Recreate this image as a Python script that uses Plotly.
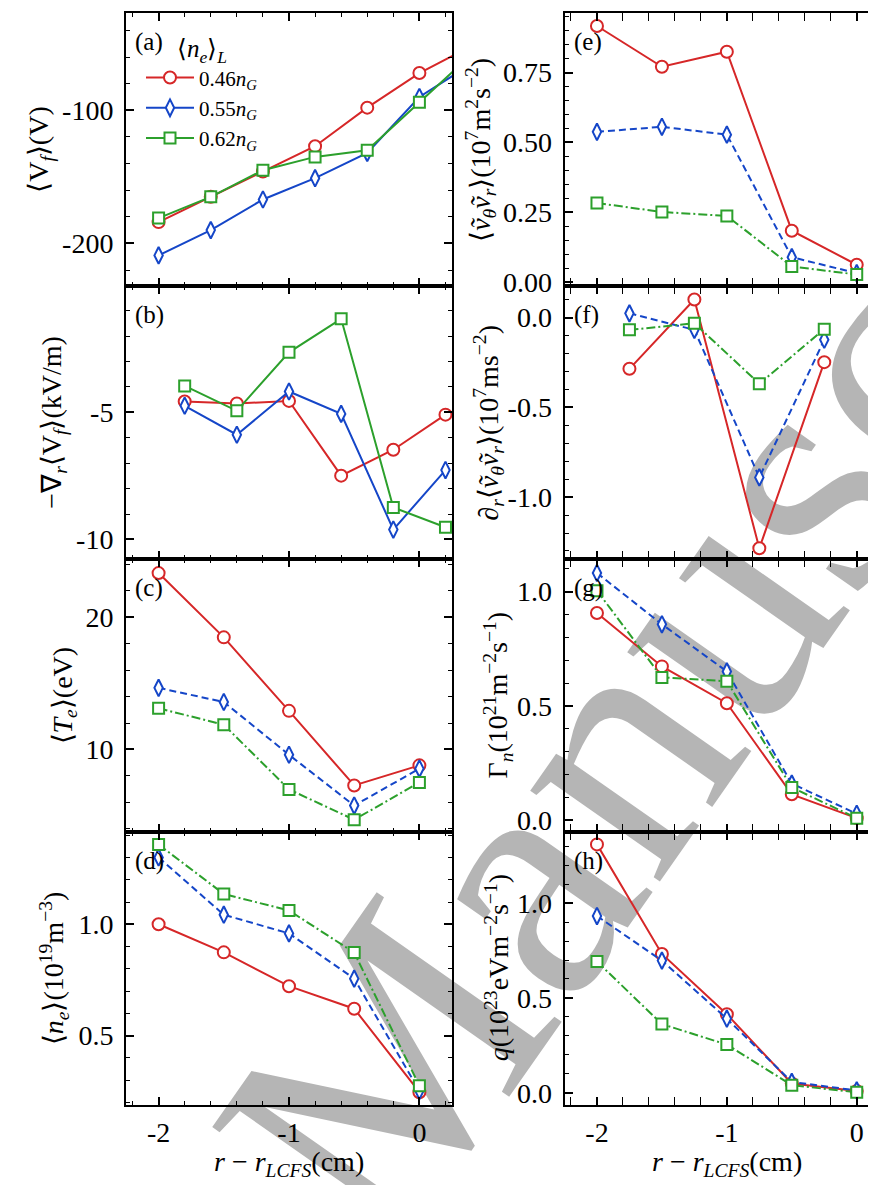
import math
import plotly.graph_objects as go

FONT = "Liberation Serif"
W, H = 876, 1185

# ---------------- data ----------------
series_names = ["0.46<i>n<sub>G</sub></i>", "0.55<i>n<sub>G</sub></i>", "0.62<i>n<sub>G</sub></i>"]
legend_title = "⟨<i>n<sub>e</sub></i>⟩<sub><i>L</i></sub>"

x_vf = [-2.0, -1.6, -1.2, -0.8, -0.4, 0.0, 0.4]
vf_046 = [-184, -165, -146, -127, -98, -72, -51.5]
vf_055 = [-209, -190, -167, -151, -132, -90, -65]
vf_062 = [-181, -165, -145, -135, -130, -94, -58]

x_er = [-1.8, -1.4, -1.0, -0.6, -0.2, 0.2]
er_046 = [-4.57, -4.65, -4.55, -7.49, -6.47, -5.09]
er_055 = [-4.74, -5.88, -4.18, -5.06, -9.61, -7.27]
er_062 = [-3.96, -4.94, -2.64, -1.32, -8.74, -9.52]

x_prof = [-2.0, -1.5, -1.0, -0.5, 0.0]
te_046 = [23.34, 18.48, 12.92, 7.28, 8.80]
te_055 = [14.66, 13.59, 9.60, 5.76, 8.55]
te_062 = [13.12, 11.87, 6.98, 4.69, 7.51]

ne_046 = [1.000, 0.874, 0.722, 0.621, 0.246]
ne_055 = [1.300, 1.043, 0.959, 0.756, 0.252]
ne_062 = [1.358, 1.136, 1.062, 0.873, 0.275]

rs_046 = [0.917, 0.771, 0.825, 0.184, 0.062]
rs_055 = [0.538, 0.556, 0.528, 0.089, 0.032]
rs_062 = [0.283, 0.251, 0.237, 0.056, 0.027]

x_drs = [-1.75, -1.25, -0.75, -0.25]
drs_046 = [-0.285, 0.101, -1.285, -0.248]
drs_055 = [0.024, -0.068, -0.890, -0.123]
drs_062 = [-0.068, -0.031, -0.368, -0.064]

gam_046 = [0.906, 0.673, 0.512, 0.114, 0.010]
gam_055 = [1.081, 0.857, 0.651, 0.161, 0.029]
gam_062 = [1.004, 0.625, 0.608, 0.144, 0.010]

q_046 = [1.310, 0.732, 0.414, 0.049, 0.009]
q_055 = [0.932, 0.697, 0.391, 0.057, 0.012]
q_062 = [0.692, 0.362, 0.254, 0.040, 0.002]

x_tickvals = [-2, -1, 0]
x_ticktext = ["-2", "-1", "0"]
x_title = "<i>r</i> − <i>r<sub>LCFS</sub></i>(cm)"

panel_labels = ["(a)", "(b)", "(c)", "(d)", "(e)", "(f)", "(g)", "(h)"]
y_titles = [
    "⟨V<sub><i>f</i></sub>⟩(V)",
    "−∇<sub><i>r</i></sub>⟨V<sub><i>f</i></sub>⟩(kV/m)",
    "⟨<i>T<sub>e</sub></i>⟩(eV)",
    "⟨<i>n<sub>e</sub></i>⟩(10<sup>19</sup>m<sup>−3</sup>)",
    "⟨<i>ṽ<sub>θ</sub>ṽ<sub>r</sub></i>⟩(10<sup>7</sup>m<sup>2</sup>s<sup>−2</sup>)",
    "∂<sub><i>r</i></sub>⟨<i>ṽ<sub>θ</sub>ṽ<sub>r</sub></i>⟩(10<sup>7</sup>ms<sup>−2</sup>)",
    "Γ<sub><i>n</i></sub>(10<sup>21</sup>m<sup>−2</sup>s<sup>−1</sup>)",
    "<i>q</i>(10<sup>23</sup>eVm<sup>−2</sup>s<sup>−1</sup>)",
]
y_tickvals = [
    [-200, -100], [-10, -5], [10, 20], [0.5, 1.0],
    [0.0, 0.25, 0.5, 0.75], [-1.0, -0.5, 0.0], [0.0, 0.5, 1.0], [0.0, 0.5, 1.0],
]
y_ticktext = [
    ["-200", "-100"], ["-10", "-5"], ["10", "20"], ["0.5", "1.0"],
    ["0.00", "0.25", "0.50", "0.75"], ["-1.0", "-0.5", "0.0"], ["0.0", "0.5", "1.0"], ["0.0", "0.5", "1.0"],
]
y_ranges = [
    [-232.2, -27.2], [-10.77, -0.04], [3.77, 24.4], [0.19, 1.415],
    [-0.015, 0.962], [-1.345, 0.175], [-0.05, 1.142], [-0.063, 1.376],
]
y_minor = [20, 1, 2, 0.1, 0.05, 0.1, 0.1, 0.1]

watermark = "Accepted Manuscript"

panels = [
    (x_vf, [vf_046, vf_055, vf_062], False),
    (x_er, [er_046, er_055, er_062], False),
    (x_prof, [te_046, te_055, te_062], True),
    (x_prof, [ne_046, ne_055, ne_062], True),
    (x_prof, [rs_046, rs_055, rs_062], True),
    (x_drs, [drs_046, drs_055, drs_062], True),
    (x_prof, [gam_046, gam_055, gam_062], True),
    (x_prof, [q_046, q_055, q_062], True),
]

# ---------------- styles ----------------
colors = ["#d62728", "#1546c8", "#2ca02c"]
symbols = ["circle", "diamond-tall", "square"]
msizes = [12, 12, 11]
dashes_styled = ["solid", "7px,4px", "9px,3px,2px,3px"]

TICK_SIZE = 28
TITLE_SIZE = 28

col_px = [(118.0, 444.0), (556.5, 876.0)]
x_ranges = [[-2.25, 0.25], [-2.25, 0.21]]
row_top = 5.5
row_h = 275.6

fig = go.Figure()


def px_x(p):
    return p / W


def px_y(p):
    return 1 - p / H


tick_common = dict(ticks="inside", ticklen=8, tickwidth=1.5, tickcolor="black",
                   showgrid=False, zeroline=False,
                   tickfont=dict(family=FONT, size=TICK_SIZE, color="black"))

for i, (xs, ys_list, styled) in enumerate(panels):
    col = i // 4
    row = i % 4
    n = i + 1
    xa = "x" if n == 1 else f"x{n}"
    ya = "y" if n == 1 else f"y{n}"
    for k, ys in enumerate(ys_list):
        fig.add_trace(go.Scatter(
            x=xs, y=ys, xaxis=xa, yaxis=ya, mode="lines+markers",
            name=series_names[k], showlegend=(i == 0),
            line=dict(color=colors[k], width=2, dash=dashes_styled[k] if styled else "solid"),
            marker=dict(symbol=symbols[k], size=msizes[k], color="white",
                        line=dict(color=colors[k], width=2)),
            cliponaxis=True,
        ))
    top = row_top + row * row_h
    bot = top + row_h
    x0, x1 = col_px[col]
    xdom = [px_x(x0), min(1.0, px_x(x1))]
    ydom = [px_y(bot), px_y(top)]
    yminor = dict(ticks="inside", ticklen=4, tickwidth=1, tickcolor="black",
                  tickmode="linear", tick0=0, dtick=y_minor[i])
    fig.update_layout(**{
        ("xaxis" if n == 1 else f"xaxis{n}"): dict(
            domain=xdom, range=x_ranges[col], anchor=ya,
            showline=True, linewidth=2, linecolor="black", mirror="allticks",
            tickmode="array", tickvals=x_tickvals, ticktext=x_ticktext,
            showticklabels=(row == 3), ticklabelstandoff=2,
            minor=dict(ticks="inside", ticklen=4, tickwidth=1, tickcolor="black",
                       tickmode="linear", tick0=0, dtick=0.2),
            **tick_common),
        ("yaxis" if n == 1 else f"yaxis{n}"): dict(
            domain=ydom, range=y_ranges[i], anchor=xa,
            showline=True, linewidth=2, linecolor="black",
            mirror=("allticks" if col == 0 else False),
            tickmode="array", tickvals=y_tickvals[i], ticktext=y_ticktext[i],
            ticklabelstandoff=5, minor=yminor,
            **tick_common),
    })
    if col == 1:
        # right-hand ticks only: the frame line itself falls just outside the picture
        m = n + 4
        fig.update_layout(**{
            f"yaxis{m}": dict(
                domain=ydom, range=y_ranges[i], anchor=xa, overlaying=ya, side="right",
                showline=False, tickmode="array", tickvals=y_tickvals[i],
                showticklabels=False, minor=yminor, **tick_common),
        })
        fig.add_trace(go.Scatter(x=xs, y=ys_list[0], xaxis=xa, yaxis=f"y{m}",
                                 mode="markers", marker=dict(opacity=0, size=1),
                                 showlegend=False, hoverinfo="skip"))
    fig.add_annotation(x=px_x(x0 + 7), y=px_y(top + 29), xref="paper", yref="paper",
                       text=panel_labels[i], showarrow=False, xanchor="left", yanchor="middle",
                       font=dict(family=FONT, size=25, color="black"))

# y-axis titles
ytitle_x = [33, 46, 56, 46, 473, 481, 490, 489]
for i in range(8):
    row = i % 4
    cy = row_top + row * row_h + row_h / 2
    fig.add_annotation(x=px_x(ytitle_x[i]), y=px_y(cy), xref="paper", yref="paper",
                       text=y_titles[i], showarrow=False, textangle=-90,
                       xanchor="center", yanchor="middle",
                       font=dict(family=FONT, size=TITLE_SIZE, color="black"))

# x-axis titles
for cx in [281, 719]:
    fig.add_annotation(x=px_x(cx), y=px_y(1167), xref="paper", yref="paper",
                       text=x_title, showarrow=False, xanchor="center", yanchor="middle",
                       font=dict(family=FONT, size=TITLE_SIZE, color="black"))

# watermark (behind everything)
ang = math.radians(55)
cxw, cyw = 310, 1105
dx, dy = 100 * math.cos(ang), 100 * math.sin(ang)
fig.add_shape(type="line", xref="paper", yref="paper",
              x0=px_x(cxw - dx), y0=px_y(cyw + dy), x1=px_x(cxw + dx), y1=px_y(cyw - dy),
              line=dict(color="rgba(0,0,0,0)", width=1), layer="below",
              label=dict(text=watermark, textangle=-55, textposition="middle",
                         xanchor="center", yanchor="middle",
                         font=dict(family=FONT, size=345, color="#b5b5b5")))

fig.update_layout(
    width=W, height=H, margin=dict(l=0, r=0, t=0, b=0),
    paper_bgcolor="white", plot_bgcolor="rgba(0,0,0,0)",
    font=dict(family=FONT, size=22, color="black"),
    showlegend=True,
    legend=dict(x=px_x(133), y=px_y(17), xanchor="left", yanchor="top",
                bgcolor="rgba(0,0,0,0)", borderwidth=0,
                font=dict(family=FONT, size=21, color="black"),
                title=dict(text=legend_title, side="top center",
                           font=dict(family=FONT, size=25, color="black")),
                itemwidth=48, tracegroupgap=0),
)

fig.write_html("out.html")
